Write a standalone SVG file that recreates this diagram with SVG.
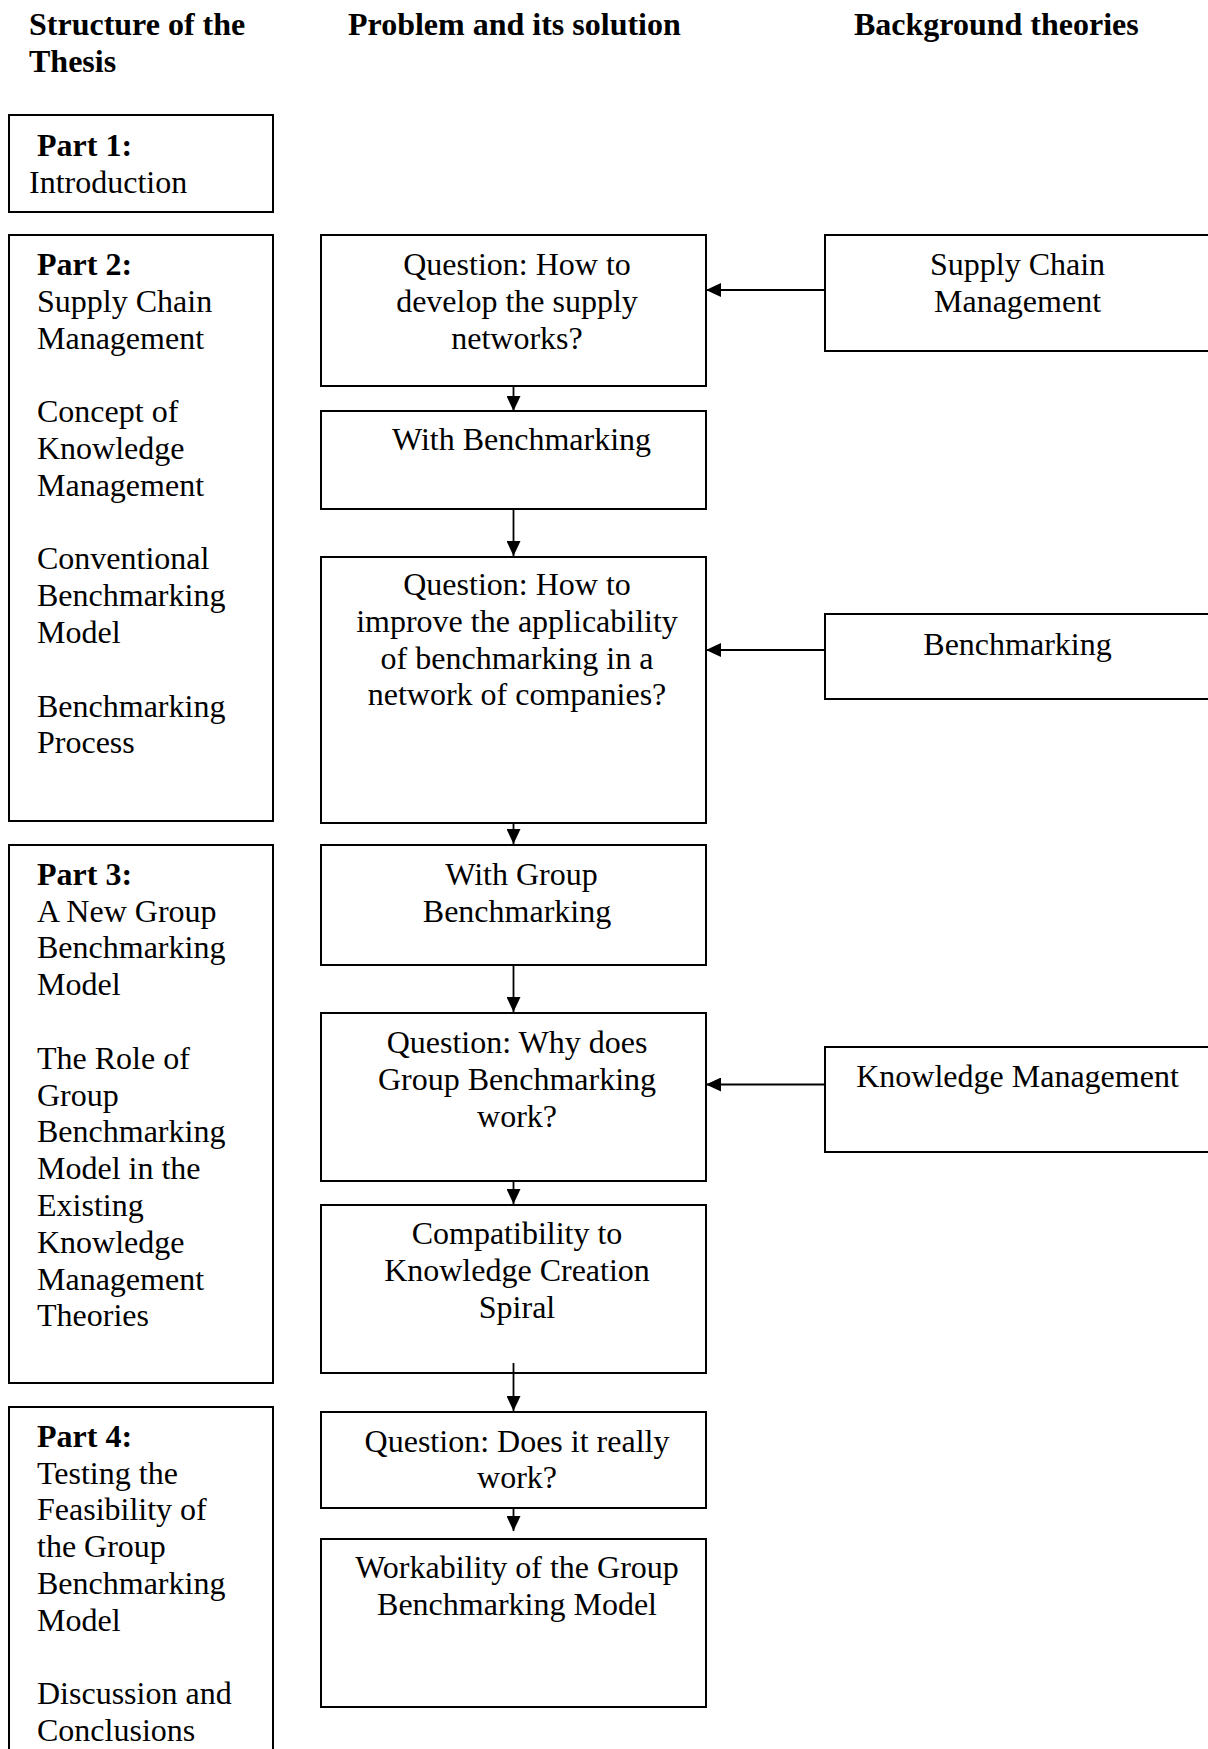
<svg xmlns="http://www.w3.org/2000/svg" width="1208" height="1749" viewBox="0 0 1208 1749">
  <style>
    text { font-family: "Liberation Serif", "Times New Roman", serif; font-size: 32px; fill: #000; }
    .hd { font-weight: bold; }
    .b { font-weight: bold; }
    .c { text-anchor: middle; }
    rect.box { fill: #fff; stroke: #000; stroke-width: 2; }
    .link { fill: none; stroke: #000; stroke-width: 1.8; marker-end: url(#arrow); }
  </style>
  <defs>
    <marker id="arrow" markerUnits="userSpaceOnUse" markerWidth="16" markerHeight="14" refX="15" refY="7" orient="auto">
      <path d="M0,0 L15,7 L0,14 z" fill="#000"/>
    </marker>
  </defs>
  <rect width="1208" height="1749" fill="#fff"/>

  <!-- column headings -->
  <g id="headings">
    <text class="hd" x="29" y="35">Structure of the<tspan x="29" dy="36.8">Thesis</tspan></text>
    <text class="hd" x="348" y="35">Problem and its solution</text>
    <text class="hd" x="854" y="35">Background theories</text>
  </g>

  <!-- thesis structure column -->
  <g id="part1">
    <rect class="box" x="9" y="115" width="264" height="97"/>
    <text x="37" y="156"><tspan class="b">Part 1:</tspan><tspan x="29" dy="36.8">Introduction</tspan></text>
  </g>
  <g id="part2">
    <rect class="box" x="9" y="235" width="264" height="586"/>
    <text x="37" y="275"><tspan class="b">Part 2:</tspan><tspan x="37" dy="36.8">Supply Chain</tspan><tspan x="37" dy="36.8">Management</tspan><tspan x="37" dy="73.6">Concept of</tspan><tspan x="37" dy="36.8">Knowledge</tspan><tspan x="37" dy="36.8">Management</tspan><tspan x="37" dy="73.6">Conventional</tspan><tspan x="37" dy="36.8">Benchmarking</tspan><tspan x="37" dy="36.8">Model</tspan><tspan x="37" dy="73.6">Benchmarking</tspan><tspan x="37" dy="36.8">Process</tspan></text>
  </g>
  <g id="part3">
    <rect class="box" x="9" y="845" width="264" height="538"/>
    <text x="37" y="884.7"><tspan class="b">Part 3:</tspan><tspan x="37" dy="36.8">A New Group</tspan><tspan x="37" dy="36.8">Benchmarking</tspan><tspan x="37" dy="36.8">Model</tspan><tspan x="37" dy="73.6">The Role of</tspan><tspan x="37" dy="36.8">Group</tspan><tspan x="37" dy="36.8">Benchmarking</tspan><tspan x="37" dy="36.8">Model in the</tspan><tspan x="37" dy="36.8">Existing</tspan><tspan x="37" dy="36.8">Knowledge</tspan><tspan x="37" dy="36.8">Management</tspan><tspan x="37" dy="36.8">Theories</tspan></text>
  </g>
  <g id="part4">
    <rect class="box" x="9" y="1407" width="264" height="400"/>
    <text x="37" y="1446.7"><tspan class="b">Part 4:</tspan><tspan x="37" dy="36.8">Testing the</tspan><tspan x="37" dy="36.8">Feasibility of</tspan><tspan x="37" dy="36.8">the Group</tspan><tspan x="37" dy="36.8">Benchmarking</tspan><tspan x="37" dy="36.8">Model</tspan><tspan x="37" dy="73.6">Discussion and</tspan><tspan x="37" dy="36.8">Conclusions</tspan></text>
  </g>

  <!-- problem / solution column -->
  <g id="q-supply-networks">
    <rect class="box" x="321" y="235" width="385" height="151"/>
    <text class="c" x="517" y="275">Question: How to<tspan x="517" dy="36.8">develop the supply</tspan><tspan x="517" dy="36.8">networks?</tspan></text>
  </g>
  <g id="with-benchmarking">
    <rect class="box" x="321" y="411" width="385" height="98"/>
    <text class="c" x="521.5" y="450">With Benchmarking</text>
  </g>
  <g id="q-applicability">
    <rect class="box" x="321" y="557" width="385" height="266"/>
    <text class="c" x="517" y="595">Question: How to<tspan x="517" dy="36.8">improve the applicability</tspan><tspan x="517" dy="36.8">of benchmarking in a</tspan><tspan x="517" dy="36.8">network of companies?</tspan></text>
  </g>
  <g id="with-group-benchmarking">
    <rect class="box" x="321" y="845" width="385" height="120"/>
    <text class="c" x="521.5" y="885">With Group<tspan x="517" dy="36.8">Benchmarking</tspan></text>
  </g>
  <g id="q-why-works">
    <rect class="box" x="321" y="1013" width="385" height="168"/>
    <text class="c" x="517" y="1053">Question: Why does<tspan x="517" dy="36.8">Group Benchmarking</tspan><tspan x="517" dy="36.8">work?</tspan></text>
  </g>
  <g id="compatibility">
    <rect class="box" x="321" y="1205" width="385" height="168"/>
    <text class="c" x="517" y="1244">Compatibility to<tspan x="517" dy="36.8">Knowledge Creation</tspan><tspan x="517" dy="36.8">Spiral</tspan></text>
  </g>
  <g id="q-really-work">
    <rect class="box" x="321" y="1412" width="385" height="96"/>
    <text class="c" x="517" y="1451.5">Question: Does it really<tspan x="517" dy="36.8">work?</tspan></text>
  </g>
  <g id="workability">
    <rect class="box" x="321" y="1539" width="385" height="168"/>
    <text class="c" x="517" y="1578">Workability of the Group<tspan x="517" dy="36.8">Benchmarking Model</tspan></text>
  </g>

  <!-- background theories column -->
  <g id="t-scm">
    <rect class="box" x="825" y="235" width="400" height="116"/>
    <text class="c" x="1017.5" y="275">Supply Chain<tspan x="1017.5" dy="36.8">Management</tspan></text>
  </g>
  <g id="t-benchmarking">
    <rect class="box" x="825" y="614" width="400" height="85"/>
    <text class="c" x="1017.5" y="655">Benchmarking</text>
  </g>
  <g id="t-km">
    <rect class="box" x="825" y="1047" width="400" height="105"/>
    <text class="c" x="1017.5" y="1086.7">Knowledge Management</text>
  </g>

  <!-- connectors -->
  <g id="connectors">
    <path class="link" d="M513.5,386 V411"/>
    <path class="link" d="M513.5,509 V556"/>
    <path class="link" d="M513.5,823 V844"/>
    <path class="link" d="M513.5,965 V1012"/>
    <path class="link" d="M513.5,1181 V1204"/>
    <path class="link" d="M513.5,1363 V1411"/>
    <path class="link" d="M513.5,1508 V1531"/>
    <path class="link" d="M825,290 H706"/>
    <path class="link" d="M825,650 H706"/>
    <path class="link" d="M825,1084.5 H706"/>
  </g>
</svg>
